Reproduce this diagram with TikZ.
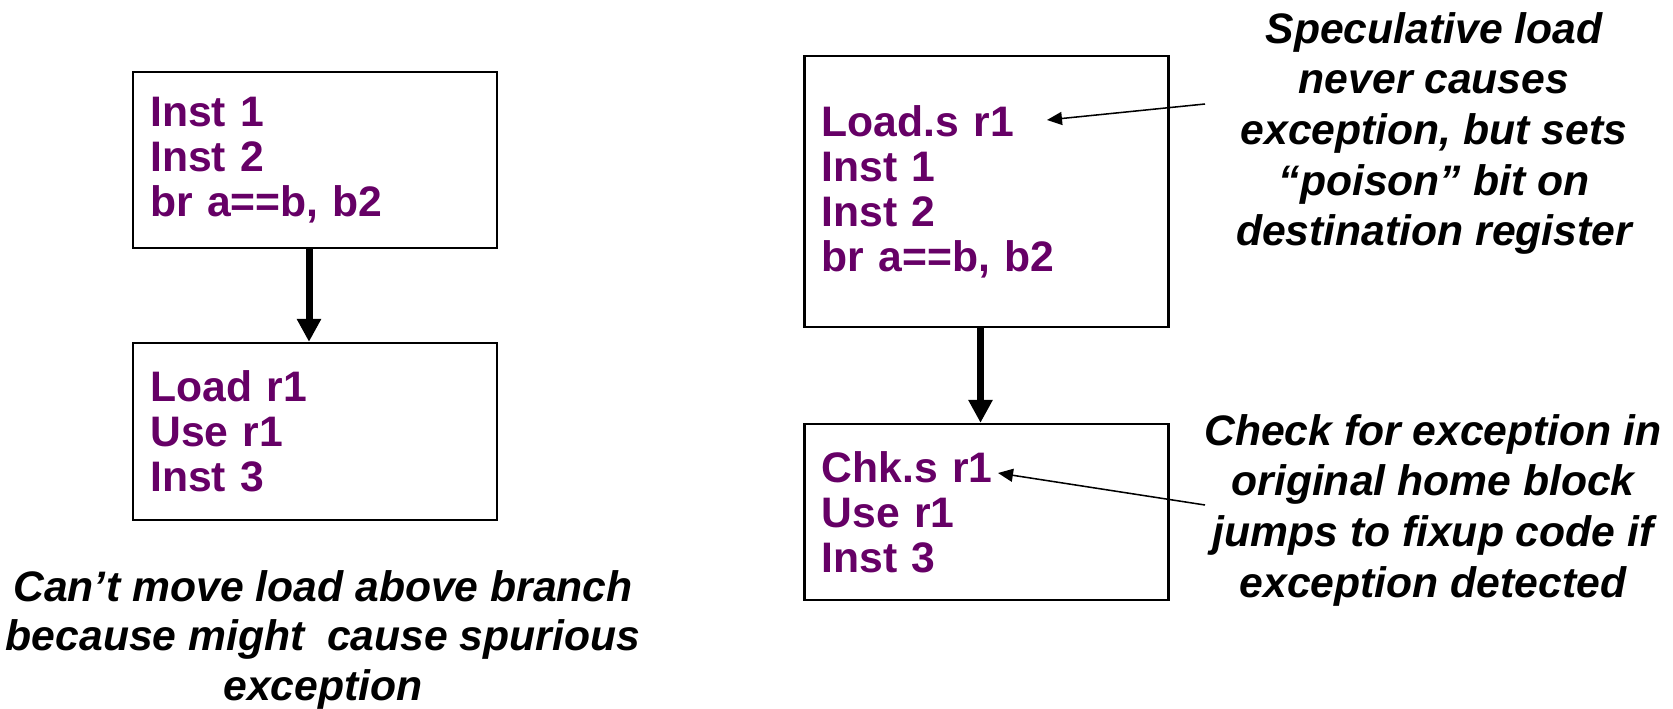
\documentclass[tikz,border=0pt]{standalone}
\usepackage{fontspec}
\setmainfont{Liberation Sans}
\usetikzlibrary{arrows.meta}
\definecolor{codepurple}{HTML}{660066}
\tikzset{
  codebox/.style={draw=black, line width=1.7pt, text=codepurple,
    font=\bfseries\fontsize{32pt}{33.75pt}\selectfont,
    align=left, text width=247pt, inner xsep=12.75pt, minimum width=273pt},
  bigarrow/.style={line width=5.25pt, -{Triangle[length=17.25pt, width=17.25pt]}},
  thinarrow/.style={line width=1.15pt, -{Triangle[length=11.25pt, width=9.75pt]}},
  note/.style={font=\bfseries\itshape\fontsize{32pt}{38pt}\selectfont,
    align=center, inner sep=0pt, anchor=north},
}
\begin{document}
\begin{tikzpicture}[x=0.75pt, y=-0.75pt]
\useasboundingbox (0,0) rectangle (1673,709);
\node[codebox, minimum height=132pt] (b1) at (315,160) {Inst 1\\Inst 2\\br a==b, b2};
\node[codebox, minimum height=132.75pt] (b2) at (315,431.5) {Load r1\\Use r1\\Inst 3};
\node[codebox, minimum height=203.25pt] (b3) at (986.5,191.5) {Load.s r1\\Inst 1\\Inst 2\\br a==b, b2};
\node[codebox, minimum height=132pt] (b4) at (986.5,512) {Chk.s r1\\Use r1\\Inst 3};
\draw[bigarrow] ([xshift=-4.5pt]b1.south) -- ([xshift=-4.5pt]b2.north);
\draw[bigarrow] ([xshift=-4.5pt]b3.south) -- ([xshift=-4.5pt]b4.north);
\node[note, font=\bfseries\itshape\fontsize{32pt}{37.1pt}\selectfont] (n0) at (323,570) {Can’t move load above branch\\because might\hspace{0.25em} cause spurious\\exception};
\node[note] (n1) at (1434,12) {Speculative load\\never causes\\exception, but sets\\“poison” bit on\\destination register};
\node[note] (n2) at (1433,414) {Check for exception in\\original home block\\jumps to fixup code if\\exception detected};
\coordinate (s1) at (1205,104);
\coordinate (t1) at (1047,120);
\coordinate (s2) at (1205,505);
\coordinate (t2) at (998,473);
\draw[thinarrow] (s1) -- (t1);
\draw[thinarrow] (s2) -- (t2);
\end{tikzpicture}
\end{document}
